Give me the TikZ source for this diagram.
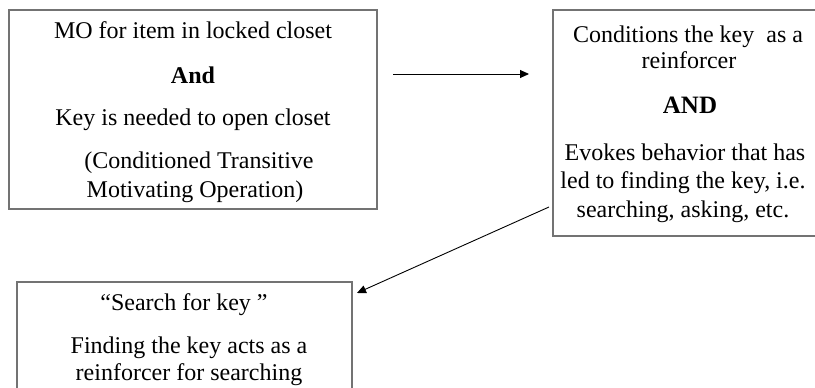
\documentclass[tikz,border=0pt]{standalone}
\usepackage{fontspec}
\setmainfont{Liberation Serif}
\usetikzlibrary{arrows.meta}
\begin{document}
\begin{tikzpicture}[x=1pt,y=-1pt,
  box/.style={draw=black!55,line width=1.3pt,fill=none},
  txt/.style={anchor=base,inner sep=0pt,font=\fontsize{24}{28}\selectfont},
  bold/.style={txt,font=\fontsize{24}{28}\selectfont\bfseries},
  conn/.style={line width=0.9pt,-{Triangle[length=9pt,width=8pt]}}]
\useasboundingbox (0,0) rectangle (815,388);
% boxes
\draw[box] (9,10) rectangle (377,209);
\draw[box] (553,10) rectangle (818,236);
\draw[box] (17,282) rectangle (352,395);
% box 1 text
\node[txt] (a1) at (193,38) {MO for item in locked closet};
\node[bold] (a2) at (193,83) {And};
\node[txt] (a3) at (193,125) {Key is needed to open closet};
\node[txt] (a4) at (199,168) {(Conditioned Transitive};
\node[txt] (a5) at (195,197) {Motivating Operation)};
% box 2 text
\node[txt] (b1) at (688,42) {Conditions the key\ \ as a};
\node[txt] (b2) at (689,68) {reinforcer};
\node[bold,font=\fontsize{25}{28}\selectfont\bfseries] (b3) at (690,113) {AND};
\node[txt] (b4) at (685,160) {Evokes behavior that has};
\node[txt] (b5) at (683,188) {led to finding the key, i.e.};
\node[txt] (b6) at (683,217) {searching, asking, etc.};
% box 3 text
\node[txt] (c1) at (184,310) {“Search for key ”};
\node[txt] (c2) at (189,353) {Finding the key acts as a};
\node[txt] (c3) at (189,380) {reinforcer for searching};
% connectors
\coordinate (p1) at (393,74);
\coordinate (p2) at (529,74);
\coordinate (q1) at (549,207);
\coordinate (q2) at (357,293);
\draw[conn] (p1) -- (p2);
\draw[conn] (q1) -- (q2);
\end{tikzpicture}
\end{document}
